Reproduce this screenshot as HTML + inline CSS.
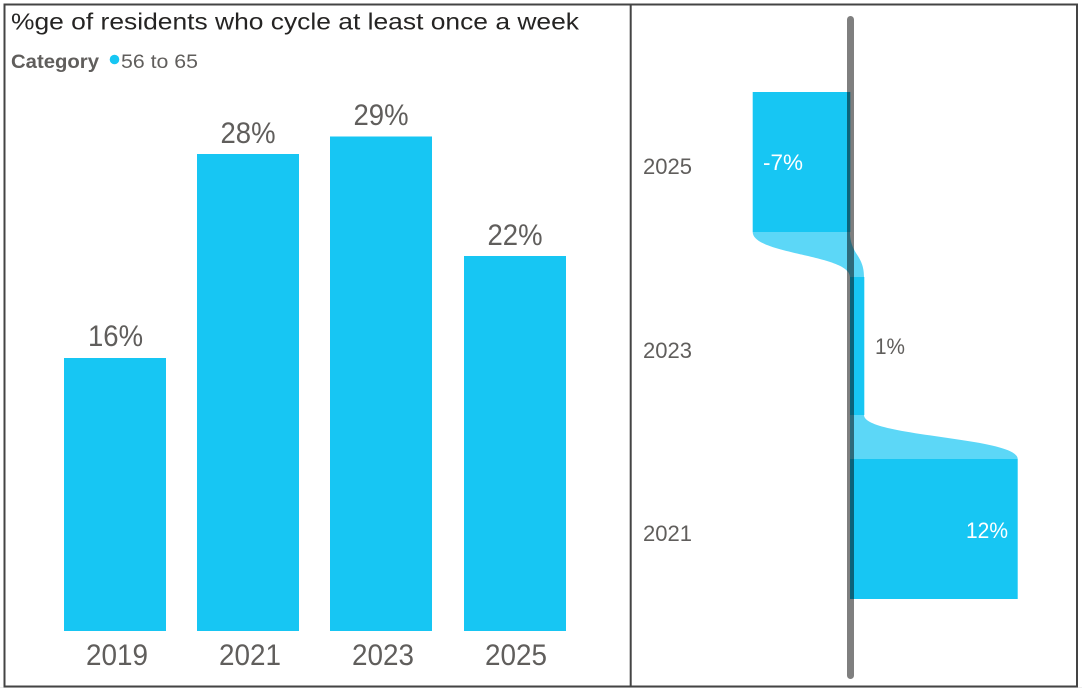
<!DOCTYPE html>
<html>
<head>
<meta charset="utf-8">
<style>
  html, body { margin: 0; padding: 0; background: #ffffff; }
  svg { display: block; }
  text { font-family: "Liberation Sans", "DejaVu Sans", sans-serif; }
</style>
</head>
<body>
<svg width="1082" height="688" viewBox="0 0 1082 688" xmlns="http://www.w3.org/2000/svg">
  <rect x="0" y="0" width="1082" height="688" fill="#ffffff"/>
  <rect x="0" y="687" width="1082" height="1" fill="#eeeeee"/>

  <!-- Title -->
  <text x="11" y="29.5" font-size="23" fill="#252423" textLength="568" lengthAdjust="spacingAndGlyphs">%ge of residents who cycle at least once a week</text>

  <!-- Legend -->
  <text x="11" y="68" font-size="19" font-weight="bold" fill="#605E5C" textLength="88" lengthAdjust="spacingAndGlyphs">Category</text>
  <circle cx="114.5" cy="59.5" r="4.8" fill="#17C6F3"/>
  <text x="121" y="68" font-size="19" fill="#605E5C" textLength="77" lengthAdjust="spacingAndGlyphs">56 to 65</text>

  <!-- Left bars -->
  <rect x="64" y="358" width="102" height="273" fill="#17C6F3"/>
  <rect x="197" y="154" width="102" height="477" fill="#17C6F3"/>
  <rect x="330" y="136.5" width="102" height="494.5" fill="#17C6F3"/>
  <rect x="464" y="256" width="102" height="375" fill="#17C6F3"/>

  <!-- Left data labels -->
  <g font-size="30" fill="#605E5C" text-anchor="middle">
    <text x="115.5" y="346" textLength="55" lengthAdjust="spacingAndGlyphs">16%</text>
    <text x="248" y="143" textLength="55" lengthAdjust="spacingAndGlyphs">28%</text>
    <text x="381" y="125" textLength="55" lengthAdjust="spacingAndGlyphs">29%</text>
    <text x="515" y="245" textLength="55" lengthAdjust="spacingAndGlyphs">22%</text>
  </g>

  <!-- Left x-axis labels -->
  <g font-size="30" fill="#605E5C" text-anchor="middle">
    <text x="117" y="665" textLength="62" lengthAdjust="spacingAndGlyphs">2019</text>
    <text x="250" y="665" textLength="62" lengthAdjust="spacingAndGlyphs">2021</text>
    <text x="383" y="665" textLength="62" lengthAdjust="spacingAndGlyphs">2023</text>
    <text x="516" y="665" textLength="62" lengthAdjust="spacingAndGlyphs">2025</text>
  </g>

  <!-- Right panel: ribbons -->
  <path d="M752.7,232 L850,232 C850,254.5 864,254.5 864,277 L850,277 C850,254.5 752.7,254.5 752.7,232 Z" fill="#17C6F3" fill-opacity="0.7"/>
  <path d="M850,415 L864,415 C864,437 1017.7,437 1017.7,459 L850,459 Z" fill="#17C6F3" fill-opacity="0.7"/>

  <!-- Right panel: bars -->
  <rect x="752.7" y="92" width="97.6" height="140" fill="#17C6F3"/>
  <rect x="850" y="277" width="14.3" height="138" fill="#17C6F3"/>
  <rect x="850" y="459" width="167.7" height="140" fill="#17C6F3"/>

  <!-- Axis line -->
  <line x1="850.5" y1="19.5" x2="850.5" y2="675.5" stroke="#000000" stroke-opacity="0.5" stroke-width="7" stroke-linecap="round"/>

  <!-- Right category labels -->
  <g font-size="22" fill="#605E5C">
    <text x="643" y="174" textLength="49" lengthAdjust="spacingAndGlyphs">2025</text>
    <text x="643" y="358" textLength="49" lengthAdjust="spacingAndGlyphs">2023</text>
    <text x="643" y="541" textLength="49" lengthAdjust="spacingAndGlyphs">2021</text>
  </g>

  <!-- Right data labels -->
  <text x="763" y="170" font-size="22" fill="#ffffff" textLength="40" lengthAdjust="spacingAndGlyphs">-7%</text>
  <text x="875" y="354" font-size="22" fill="#605E5C" textLength="30" lengthAdjust="spacingAndGlyphs">1%</text>
  <text x="966" y="538" font-size="22" fill="#ffffff" textLength="42" lengthAdjust="spacingAndGlyphs">12%</text>

  <!-- Borders -->
  <rect x="4.5" y="4.5" width="1072.5" height="682" fill="none" stroke="#444444" stroke-width="2"/>
  <line x1="630.7" y1="4" x2="630.7" y2="687" stroke="#444444" stroke-width="2"/>
</svg>
</body>
</html>
